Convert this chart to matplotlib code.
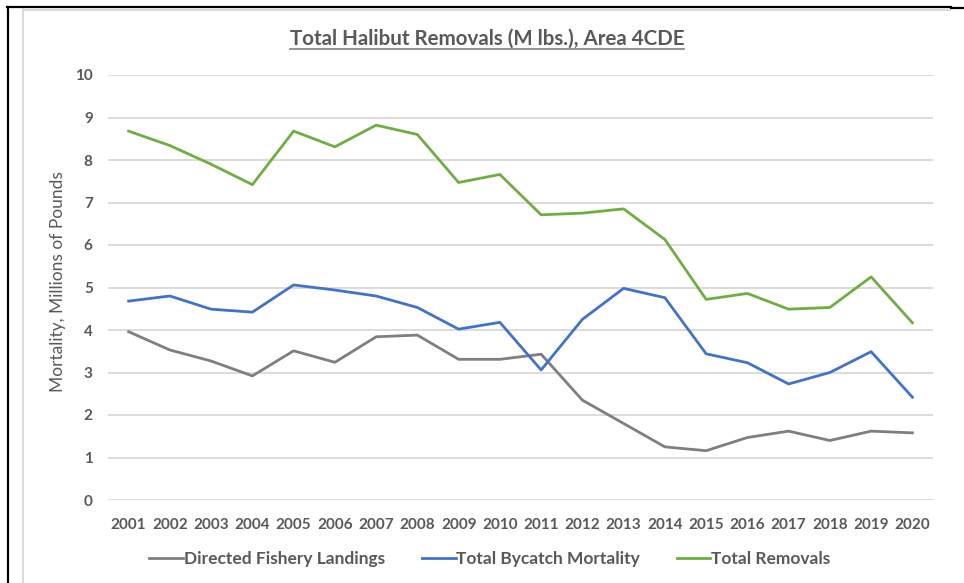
import numpy as np
import matplotlib
matplotlib.use("Agg")
import matplotlib.pyplot as plt
from matplotlib.lines import Line2D

# data
years = [str(y) for y in range(2001, 2021)]
directed_landings = [3.96, 3.53, 3.27, 2.92, 3.51, 3.24, 3.84, 3.88, 3.31, 3.31,
                     3.43, 2.35, 1.80, 1.25, 1.16, 1.47, 1.62, 1.40, 1.62, 1.58]
bycatch_mortality = [4.68, 4.80, 4.49, 4.42, 5.06, 4.94, 4.80, 4.53, 4.02, 4.18,
                     3.06, 4.25, 4.98, 4.76, 3.44, 3.23, 2.73, 3.00, 3.49, 2.42]
total_removals = [8.68, 8.34, 7.90, 7.42, 8.68, 8.31, 8.82, 8.60, 7.47, 7.66,
                  6.71, 6.75, 6.85, 6.13, 4.72, 4.86, 4.49, 4.53, 5.25, 4.17]
y_ticks = list(range(0, 11))

W, H = 964, 583
TXT = "#595959"
plt.rcParams['font.family'] = ['Lato', 'DejaVu Sans']

fig = plt.figure(figsize=(W / 100, H / 100), dpi=100)
fig.patch.set_facecolor("white")


def fx(px):
    return px / W


def fy(py):
    return (H - py) / H


ax = fig.add_axes([fx(108), fy(500), fx(933) - fx(108), fy(75) - fy(500)])
x = np.arange(len(years))
ax.plot(x, directed_landings, color="#7f7f7f", lw=2.0, label="Directed Fishery Landings")
ax.plot(x, bycatch_mortality, color="#4472c4", lw=2.0, label="Total Bycatch Mortality")
ax.plot(x, total_removals, color="#70ad47", lw=2.0, label="Total Removals")

ax.set_xlim(-0.5, len(years) - 0.5)
ax.set_ylim(0, 10)
ax.set_yticks(y_ticks)
ax.set_xticks(x)
ax.set_xticklabels(years)
ax.grid(axis="y", color="#d9d9d9", lw=1.3)
ax.set_axisbelow(True)
for s in ax.spines.values():
    s.set_visible(False)
ax.tick_params(length=0, labelsize=11, labelcolor=TXT)
ax.tick_params(axis="y", pad=11)
ax.tick_params(axis="x", pad=13)
for lab in ax.get_xticklabels() + ax.get_yticklabels():
    lab.set_fontweight("bold")

# y axis title, centred on the spot the reference has it
ylab = fig.text(fx(58), fy(282), "Mortality, Millions of Pounds", rotation=90,
                ha="center", va="center", fontsize=12.5, color=TXT)

# title, underlined
title = fig.text(fx(487), fy(45), "Total Halibut Removals (M lbs.), Area 4CDE",
                 ha="center", va="baseline", fontsize=14.8, fontweight="bold", color=TXT)

fig.legend(loc="center", bbox_to_anchor=(fx(490), fy(559)), ncol=3, frameon=False,
           handlelength=1.95, handletextpad=0.05, columnspacing=2.1,
           prop={"size": 12.5, "weight": "bold"}, labelcolor=TXT)

# outer frame lines
fig.add_artist(Line2D([fx(8), fx(8)], [fy(7), 0], color="black", lw=1.6))
fig.add_artist(Line2D([fx(7), fx(951)], [fy(7), fy(7)], color="black", lw=1.6))
fig.add_artist(Line2D([fx(951), 1], [fy(8), fy(8)], color="black", lw=1.6))
fig.add_artist(Line2D([fx(23), fx(23)], [fy(9), 0], color="#d9d9d9", lw=1.4))
fig.add_artist(Line2D([fx(23), fx(951)], [fy(9.5), fy(9.5)], color="#d9d9d9", lw=1.4))

fig.canvas.draw()
bb = title.get_window_extent().transformed(fig.transFigure.inverted())
fig.add_artist(Line2D([bb.x0, bb.x1], [fy(48.5), fy(48.5)], color="#7f7f7f", lw=1.2))

fig.savefig("out.png", dpi=100)

# sanity check on where the y title landed
yb = ylab.get_window_extent()
if abs((yb.x0 + yb.x1) / 2 - 58) > 4:
    raise SystemExit(f"ylabel x0={yb.x0:.1f} x1={yb.x1:.1f}")
